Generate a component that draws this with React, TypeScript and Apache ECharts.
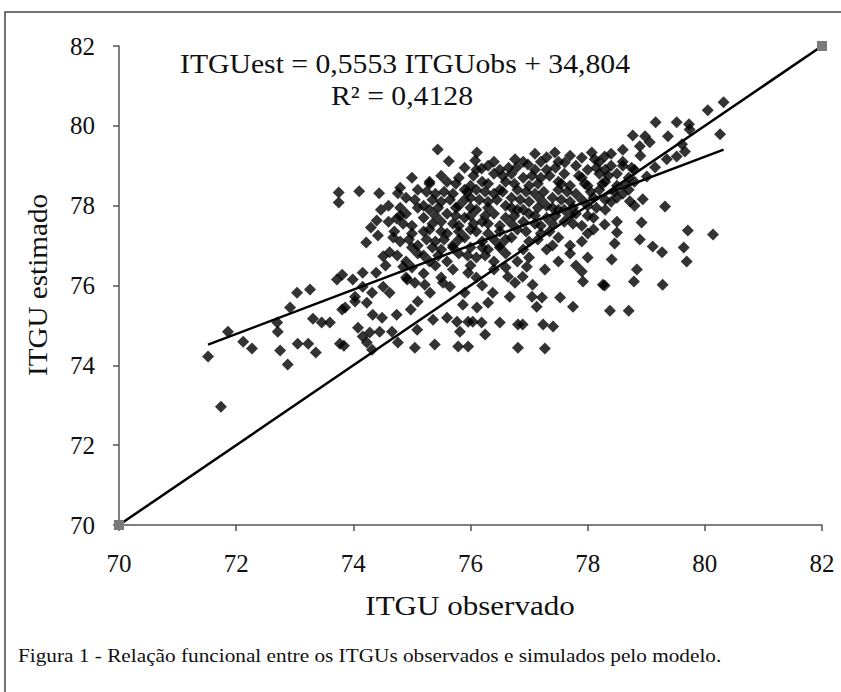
import React, { useEffect, useRef } from "react";
import * as echarts from "echarts";

const points: [number, number][] = [
  // sparse lower-left
  [71.52, 74.22], [71.74, 72.96], [71.86, 74.84], [72.12, 74.59], [72.27, 74.42],
  [72.70, 75.07], [72.71, 74.84], [72.75, 74.37], [72.88, 74.02], [72.92, 75.45],
  [73.05, 74.54], [73.23, 74.54], [73.36, 74.32], [73.31, 75.17], [73.46, 75.07],
  [73.60, 75.07], [73.81, 75.40], [73.77, 74.54], [73.84, 74.49], [74.03, 75.60],
  [74.23, 75.57], [74.33, 75.27], [74.49, 75.19], [74.74, 75.27], [74.08, 74.94],
  [74.28, 74.82], [74.45, 74.84], [74.23, 74.57], [74.66, 74.84], [74.76, 74.57],
  [74.32, 74.39], [74.16, 74.72],
  // left upper group
  [73.75, 78.33], [73.75, 78.08], [74.10, 78.36], [74.44, 78.31], [74.76, 78.31],
  [74.47, 77.90], [74.40, 77.63], [74.74, 77.68], [74.42, 77.25], [74.22, 77.08],
  [74.68, 77.20], [74.51, 76.73], [74.62, 76.83], [73.81, 76.27], [73.72, 76.15],
  [74.16, 76.32], [74.39, 76.32], [73.99, 76.15], [73.04, 75.82], [73.26, 75.90],
  [74.03, 75.72], [74.16, 75.97], [74.32, 75.82], [74.51, 75.97], [74.62, 75.82],
  [73.86, 75.45], [74.85, 76.47],
  // top edge of cloud
  [75.44, 79.41], [75.63, 79.11], [76.11, 79.33], [76.08, 79.13], [76.19, 78.93],
  [76.76, 79.16], [76.79, 78.96], [76.98, 79.03], [77.30, 79.21], [77.44, 79.33],
  [77.61, 79.08], [78.07, 79.33], [78.12, 79.16], [78.29, 79.23],
  // right side
  [80.32, 80.59], [80.05, 80.39], [79.16, 80.09], [79.52, 80.09], [79.73, 80.04],
  [79.74, 79.91], [78.77, 79.76], [79.37, 79.74], [78.98, 79.74], [80.26, 79.79],
  [79.06, 79.59], [78.89, 79.49], [79.61, 79.54], [79.66, 79.36], [79.52, 79.23],
  [79.35, 79.16], [79.15, 78.96], [79.01, 78.73], [78.94, 78.16], [79.32, 77.98],
  [78.72, 78.11], [78.29, 77.53], [78.92, 77.58], [79.71, 77.38], [80.14, 77.28],
  [78.50, 77.33], [78.46, 77.05], [78.89, 77.15], [79.11, 76.98], [79.27, 76.83],
  [79.64, 76.95], [79.69, 76.60], [78.41, 76.65], [78.84, 76.40], [78.79, 76.10],
  [78.29, 76.00], [79.28, 76.02], [78.38, 75.37], [78.70, 75.37],
  // below the 1:1 line
  [77.27, 76.40], [78.26, 76.02], [77.90, 76.35], [77.92, 76.10], [77.53, 75.70],
  [77.75, 75.47], [77.22, 75.70], [77.13, 75.47], [77.05, 75.72], [76.67, 75.72],
  [76.38, 75.82], [76.30, 75.57], [76.11, 75.45], [75.87, 75.52], [75.90, 75.82],
  [75.70, 76.40], [75.96, 76.32], [76.64, 76.22], [76.76, 76.07], [76.96, 76.47],
  [76.89, 76.22], [77.06, 76.02], [77.24, 75.02], [77.41, 74.97], [76.89, 75.02],
  [76.81, 75.02], [76.50, 75.07], [76.19, 75.07], [76.04, 75.09], [75.96, 75.09],
  [75.77, 75.09], [75.60, 75.19], [75.36, 75.14], [76.25, 74.77], [75.82, 74.84],
  [75.79, 74.47], [75.96, 74.47], [75.39, 74.52], [76.81, 74.44], [77.27, 74.42],
  [75.05, 74.44], [75.09, 74.89], [75.31, 75.82], [75.22, 76.02], [75.05, 76.07],
  [75.53, 76.07], [75.65, 75.97], [74.92, 76.15], [75.10, 75.60], [74.98, 75.40],
  // dense core
  [76.30, 79.00], [76.50, 78.90], [77.10, 78.90], [77.20, 79.10], [77.80, 79.00],
  [77.90, 79.20], [78.00, 78.90], [78.40, 79.00], [78.60, 79.10], [78.50, 78.80],
  [75.60, 78.60], [75.80, 78.70], [76.00, 78.50], [76.20, 78.60], [76.40, 78.80],
  [76.60, 78.60], [76.70, 78.80], [76.90, 78.70], [77.00, 78.50], [77.20, 78.70],
  [77.30, 78.90], [77.50, 78.60], [77.60, 78.80], [77.70, 78.50], [77.90, 78.70],
  [78.00, 78.50], [78.20, 78.80], [78.30, 78.60], [78.50, 78.50], [78.70, 78.70],
  [78.80, 78.90], [76.10, 78.90], [75.90, 78.40], [76.50, 78.40],
  [74.90, 78.20], [75.10, 78.40], [75.20, 78.00], [75.40, 78.30], [75.50, 78.10],
  [75.70, 78.30], [75.80, 78.00], [76.00, 78.20], [76.10, 78.40], [76.30, 78.10],
  [76.40, 78.30], [76.60, 78.00], [76.70, 78.20], [76.80, 78.40], [77.00, 78.10],
  [77.10, 78.30], [77.30, 78.00], [77.40, 78.20], [77.50, 78.40], [77.70, 78.10],
  [77.80, 78.30], [78.00, 78.00], [78.10, 78.20], [78.20, 78.40], [78.40, 78.10],
  [78.60, 78.30], [78.80, 78.00], [77.60, 77.90], [76.90, 77.90],
  [74.60, 77.60], [74.90, 77.80], [75.00, 77.50], [75.20, 77.70], [75.30, 77.90],
  [75.50, 77.60], [75.60, 77.80], [75.80, 77.50], [75.90, 77.70], [76.10, 77.90],
  [76.20, 77.60], [76.40, 77.80], [76.50, 77.50], [76.60, 77.70], [76.80, 77.90],
  [76.90, 77.60], [77.00, 77.80], [77.20, 77.50], [77.30, 77.70], [77.50, 77.90],
  [77.60, 77.60], [77.80, 77.80], [77.90, 77.50], [78.10, 77.70], [78.30, 77.90],
  [78.50, 77.60], [78.00, 77.30],
  [74.80, 77.10], [75.00, 77.30], [75.10, 77.00], [75.30, 77.40], [75.40, 77.10],
  [75.60, 77.30], [75.70, 77.00], [75.90, 77.20], [76.00, 77.40], [76.20, 77.10],
  [76.30, 77.30], [76.50, 77.00], [76.70, 77.20], [76.80, 77.40], [77.00, 77.10],
  [77.20, 77.30], [77.40, 77.00], [77.50, 77.20], [77.70, 77.00], [77.90, 77.10],
  [78.10, 77.40], [76.90, 76.90],
  [74.90, 76.60], [75.10, 76.80], [75.30, 76.60], [75.50, 76.90], [75.60, 76.60],
  [75.80, 76.80], [76.00, 76.50], [76.10, 76.70], [76.30, 76.90], [76.40, 76.60],
  [76.60, 76.80], [76.80, 76.60], [77.00, 76.70], [77.30, 76.90], [77.50, 76.60],
  [77.70, 76.80], [77.80, 76.50], [78.00, 76.70],
  [78.30, 78.90], [78.40, 79.30], [78.60, 79.00], [78.70, 78.40], [78.80, 78.60],
  [78.50, 78.20], [78.60, 79.40], [74.90, 76.20], [75.00, 76.45], [75.20, 76.30],
  [75.40, 76.50], [75.50, 76.20], [76.10, 76.20], [76.20, 76.00], [76.40, 76.40],
  [76.60, 76.45], [74.55, 76.50], [74.30, 77.45], [74.60, 78.00], [75.00, 78.70],
  [75.30, 78.60], [74.80, 78.45], [77.10, 79.30], [77.70, 79.25], [78.90, 79.25],
  // extra core density
  [76.40, 79.10], [76.90, 79.10], [77.50, 79.10], [78.20, 79.10],
  [75.90, 78.95], [76.65, 78.95], [77.45, 78.95], [78.15, 78.95], [78.75, 78.95],
  [75.50, 78.75], [76.05, 78.75], [76.55, 78.75], [77.05, 78.75], [77.35, 78.75], [77.85, 78.75], [78.35, 78.75],
  [75.30, 78.55], [75.75, 78.55], [76.30, 78.55], [76.75, 78.55], [77.15, 78.55], [77.55, 78.55], [77.95, 78.55], [78.25, 78.55], [78.65, 78.55],
  [75.25, 78.35], [75.55, 78.35], [75.95, 78.35], [76.25, 78.35], [76.55, 78.35], [76.95, 78.35], [77.25, 78.35], [77.65, 78.35], [78.05, 78.35], [78.45, 78.35],
  [75.05, 78.15], [75.35, 78.15], [75.65, 78.15], [75.90, 78.15], [76.15, 78.15], [76.45, 78.15], [76.85, 78.15], [77.20, 78.15], [77.55, 78.15], [77.90, 78.15], [78.30, 78.15],
  [74.80, 77.95], [75.10, 77.95], [75.45, 77.95], [75.75, 77.95], [76.00, 77.95], [76.30, 77.95], [76.70, 77.95], [77.15, 77.95], [77.40, 77.95], [77.75, 77.95], [78.15, 77.95],
  [74.80, 77.75], [75.40, 77.75], [75.75, 77.75], [76.00, 77.75], [76.25, 77.75], [76.75, 77.75], [77.10, 77.75], [77.45, 77.75], [77.70, 77.75], [78.00, 77.75],
  [74.85, 77.55], [75.35, 77.55], [75.70, 77.55], [76.05, 77.55], [76.30, 77.55], [76.70, 77.55], [77.10, 77.55], [77.40, 77.55], [77.75, 77.55],
  [74.70, 77.35], [75.20, 77.35], [75.50, 77.35], [75.80, 77.35], [76.10, 77.35], [76.50, 77.35], [76.95, 77.35], [77.35, 77.35],
  [74.95, 77.15], [75.25, 77.15], [75.55, 77.15], [75.80, 77.15], [76.40, 77.15], [76.60, 77.15], [77.15, 77.15],
  [75.00, 76.95], [75.35, 76.95], [75.70, 76.95], [76.00, 76.95], [76.20, 76.95], [76.50, 76.95],
  [74.75, 76.75], [75.20, 76.75], [75.45, 76.75], [75.95, 76.75], [76.25, 76.75],
];

// Trend line from the fitted equation ITGUest = 0,5553 ITGUobs + 34,804
const slope = 0.5553;
const intercept = 34.804;
const trendXs = [71.52, 80.32];

// 1:1 reference line
const identityXs = [70, 82];

const axisMin = 70;
const axisMax = 82;
const axisStep = 2;

const equationText = "ITGUest = 0,5553 ITGUobs + 34,804";
const r2Text = "R² = 0,4128";
const xTitle = "ITGU observado";
const yTitle = "ITGU estimado";
const caption = "Figura 1 - Relação funcional entre os ITGUs observados e simulados pelo modelo.";

const SERIF = "'Liberation Serif', 'DejaVu Serif', serif";

export default function App() {
  const ref = useRef<HTMLDivElement>(null);

  useEffect(() => {
    if (!ref.current) return;
    const chart = echarts.init(ref.current, undefined, { renderer: "svg" });

    const axisCommon = {
      type: "value" as const,
      min: axisMin,
      max: axisMax,
      interval: axisStep,
      axisLine: { show: true, onZero: false, lineStyle: { color: "#555", width: 1.5 } },
      axisTick: { show: true, inside: false, length: 6, lineStyle: { color: "#555", width: 1.5 } },
      splitLine: { show: false },
    };

    const txt = (text: string, x: number, y: number, size: number, sx: number, extra: any = {}) => ({
      type: "text",
      x,
      y,
      scaleX: sx,
      ...extra,
      style: {
        text,
        font: `${size}px ${SERIF}`,
        fill: "#111",
        textAlign: extra.align || "center",
        textVerticalAlign: "middle",
      },
    });

    chart.setOption({
      animation: false,
      backgroundColor: "#fff",
      grid: { left: 119, top: 46, right: 19, bottom: 167, containLabel: false },
      xAxis: {
        ...axisCommon,
        axisLabel: { margin: 26, fontFamily: SERIF, fontSize: 25, color: "#111" },
      },
      yAxis: {
        ...axisCommon,
        axisLabel: { margin: 24, fontFamily: SERIF, fontSize: 25, color: "#111" },
      },
      series: [
        {
          type: "scatter",
          data: points,
          symbol: "diamond",
          symbolSize: 12,
          itemStyle: { color: "#000" },
          z: 3,
        },
        {
          type: "line",
          data: identityXs.map((v) => [v, v]),
          symbol: "rect",
          symbolSize: 10,
          showSymbol: true,
          clip: false,
          lineStyle: { color: "#000", width: 2.5 },
          itemStyle: { color: "#7a7a7a" },
          z: 4,
        },
        {
          type: "line",
          data: trendXs.map((v) => [v, slope * v + intercept]),
          showSymbol: false,
          symbol: "none",
          lineStyle: { color: "#000", width: 2.5 },
          z: 4,
        },
      ],
      graphic: [
        {
          type: "rect",
          shape: { x: 5, y: 12, width: 900, height: 800 },
          style: { fill: "none", stroke: "#444", lineWidth: 1.5 },
          silent: true,
        },
        txt(equationText, 405, 64, 27, 1.1),
        txt(r2Text, 402, 96, 27, 1.1),
        txt(xTitle, 470, 606, 27, 1.15),
        txt(yTitle, 38, 285, 27, 1.08, { rotation: Math.PI / 2 }),
        txt(caption, 18, 655, 19, 1.12, { align: "left" }),
      ],
    });

    return () => chart.dispose();
  }, []);

  return (
    <div
      ref={ref}
      style={{ position: "fixed", left: 0, top: 0, width: 841, height: 692 }}
    />
  );
}
